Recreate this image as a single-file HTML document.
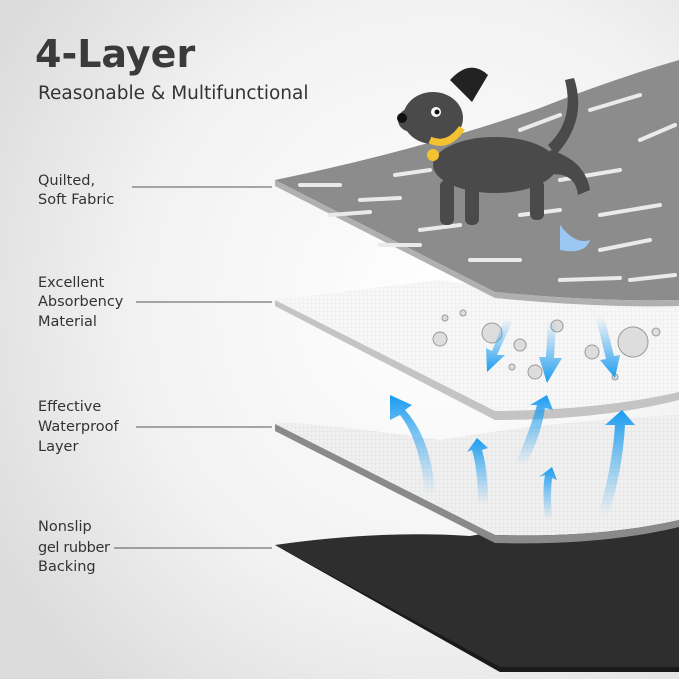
<!DOCTYPE html>
<html><head><style>
body{margin:0;width:679px;height:679px;overflow:hidden;font-family:"DejaVu Sans","Liberation Sans",sans-serif;}
</style></head><body>
<svg width="679" height="679" viewBox="0 0 679 679" xmlns="http://www.w3.org/2000/svg">
<defs>
<radialGradient id="bg" cx="0.65" cy="0.45" r="0.75">
<stop offset="0" stop-color="#ffffff"/><stop offset="0.6" stop-color="#f2f2f2"/><stop offset="1" stop-color="#dcdcdc"/>
</radialGradient>
<linearGradient id="ar" x1="0" y1="1" x2="0" y2="0">
<stop offset="0" stop-color="#3aa8f0" stop-opacity="0"/><stop offset="1" stop-color="#1a9cf0"/>
</linearGradient>
<linearGradient id="ad" x1="0" y1="0" x2="0" y2="1">
<stop offset="0" stop-color="#3aa8f0" stop-opacity="0"/><stop offset="1" stop-color="#1a9cf0"/>
</linearGradient>
<pattern id="grid" width="4" height="4" patternUnits="userSpaceOnUse"><path d="M4 0V4H0" fill="none" stroke="#d8d8d8" stroke-width="0.5"/></pattern>
</defs>
<rect width="679" height="679" fill="url(#bg)"/>
<text x="35" y="67" font-size="38" font-weight="bold" fill="#3a3a3a">4-Layer</text>
<text x="38" y="99" font-size="18.5" fill="#333">Reasonable &amp; Multifunctional</text>
<g font-size="14.5" fill="#333">
<text x="38" y="185">Quilted,</text><text x="38" y="204">Soft Fabric</text>
<text x="38" y="287">Excellent</text><text x="38" y="306">Absorbency</text><text x="38" y="326">Material</text>
<text x="38" y="411">Effective</text><text x="38" y="431">Waterproof</text><text x="38" y="451">Layer</text>
<text x="38" y="531">Nonslip</text><text x="38" y="552" textLength="72">gel rubber</text><text x="38" y="571">Backing</text>
</g>
<g stroke="#555" stroke-width="1">
<line x1="132" y1="187" x2="272" y2="187"/><line x1="136" y1="302" x2="272" y2="302"/>
<line x1="136" y1="427" x2="272" y2="427"/><line x1="114" y1="548" x2="272" y2="548"/>
</g>
<path d="M275 545 Q380 530 470 536 Q560 520 679 505 L679 672 L500 672 Z" fill="#2e2e2e"/>
<path d="M275 545 L500 667 L679 667 L679 672 L500 672 Z" fill="#1a1a1a"/>
<path d="M275 424 Q300 420 440 440 Q560 420 679 415 L679 520 Q600 538 495 535 Z" fill="#f0f0f0"/>
<path d="M275 424 Q300 420 440 440 Q560 420 679 415 L679 520 Q600 538 495 535 Z" fill="url(#grid)"/>
<path d="M275 424 L495 535 Q600 538 679 520 L679 527 Q600 546 495 543 L275 431 Z" fill="#8a8a8a"/>
<path d="M275 300 L440 280 Q560 300 679 290 L679 392 Q600 410 495 411 Z" fill="#f7f7f7"/>
<path d="M275 300 L440 280 Q560 300 679 290 L679 392 Q600 410 495 411 Z" fill="url(#grid)" opacity="0.6"/>
<path d="M275 300 L495 411 Q600 410 679 392 L679 400 Q600 420 495 420 L275 306 Z" fill="#c4c4c4"/>
<path d="M275 180 Q420 150 540 108 Q610 80 679 60 L679 300 Q600 302 495 292 Z" fill="#8c8c8c"/>
<path d="M275 180 L495 292 Q600 302 679 300 L679 306 Q600 308 495 298 L275 186 Z" fill="#b0b0b0"/>
<g stroke="#eaeaea" stroke-width="4" stroke-linecap="round">
<line x1="300" y1="185" x2="340" y2="185"/><line x1="360" y1="200" x2="400" y2="198"/>
<line x1="330" y1="215" x2="370" y2="212"/><line x1="420" y1="230" x2="460" y2="225"/>
<line x1="470" y1="260" x2="520" y2="260"/><line x1="560" y1="280" x2="620" y2="278"/>
<line x1="600" y1="250" x2="650" y2="240"/><line x1="520" y1="130" x2="560" y2="115"/>
<line x1="590" y1="110" x2="640" y2="95"/><line x1="640" y1="140" x2="675" y2="125"/>
<line x1="560" y1="180" x2="620" y2="170"/><line x1="600" y1="215" x2="660" y2="205"/>
<line x1="630" y1="280" x2="675" y2="275"/><line x1="395" y1="175" x2="430" y2="170"/>
<line x1="380" y1="245" x2="420" y2="245"/><line x1="520" y1="215" x2="560" y2="210"/>
</g>
<g fill="#4a4a4a">
<ellipse cx="495" cy="165" rx="62" ry="28"/>
<ellipse cx="433" cy="118" rx="30" ry="26"/>
<ellipse cx="412" cy="120" rx="14" ry="12"/>
<path d="M450 80 Q470 58 488 75 L472 102 Z" fill="#222"/>
<rect x="440" y="180" width="14" height="45" rx="6"/><rect x="465" y="185" width="14" height="40" rx="6"/>
<rect x="530" y="180" width="14" height="40" rx="6"/><path d="M550 150 Q585 160 590 190 L578 195 Q575 170 545 175 Z"/>
<path d="M548 145 Q575 120 565 80 L574 78 Q588 120 556 155 Z"/>
</g>
<circle cx="402" cy="118" r="5" fill="#111"/><circle cx="436" cy="112" r="5" fill="#fff"/><circle cx="437" cy="112" r="2.5" fill="#111"/>
<path d="M430 140 Q448 148 462 128" stroke="#f2c230" stroke-width="7" fill="none"/>
<circle cx="433" cy="155" r="6" fill="#f2c230"/>
<path d="M560 225 Q575 245 590 240 Q585 255 560 250 Z" fill="#9bc8f2"/>
<g fill="#ddd" stroke="#999" stroke-width="1">
<circle cx="440" cy="339" r="7"/><circle cx="492" cy="333" r="10"/><circle cx="520" cy="345" r="6"/>
<circle cx="557" cy="326" r="6"/><circle cx="535" cy="372" r="7"/><circle cx="592" cy="352" r="7"/>
<circle cx="633" cy="342" r="15"/><circle cx="656" cy="332" r="4"/><circle cx="512" cy="367" r="3"/>
<circle cx="615" cy="377" r="3"/><circle cx="445" cy="318" r="3"/><circle cx="463" cy="313" r="3"/>
</g>
<g fill="url(#ad)">
<path d="M505 318 L512 322 L497 355 L505 355 L487 372 L486 348 L492 351 Z"/>
<path d="M548 320 L556 321 L554 358 L562 358 L547 383 L539 357 L546 357 Z"/>
<path d="M596 318 L604 316 L614 356 L620 355 L615 378 L600 360 L606 359 Z"/>
</g>
<g fill="url(#ar)">
<path d="M425 495 Q420 440 400 415 L390 420 L390 395 L412 405 L405 410 Q432 440 435 495 Z"/>
<path d="M478 505 Q478 470 472 450 L467 452 L477 438 L488 448 L482 450 Q488 470 488 505 Z"/>
<path d="M515 465 Q530 430 537 405 L530 405 L547 395 L553 410 L545 408 Q540 440 525 465 Z"/>
<path d="M545 520 Q542 490 545 475 L539 477 L552 467 L557 480 L552 478 Q550 495 552 520 Z"/>
<path d="M598 515 Q612 470 615 425 L605 425 L622 410 L635 425 L625 425 Q622 475 608 515 Z"/>
</g>
</svg>
</body></html>
